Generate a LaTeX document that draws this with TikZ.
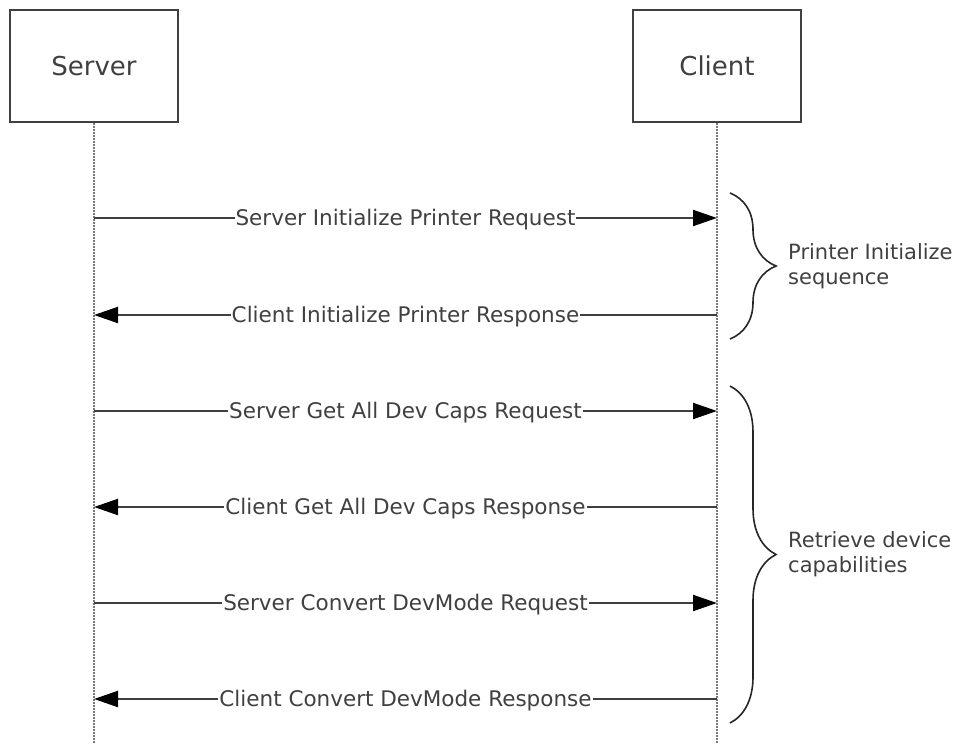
\documentclass[tikz,border=0pt]{standalone}
\usepackage{fontspec}
\setmainfont{DejaVu Sans}
\usetikzlibrary{arrows.meta,decorations.pathreplacing}
\definecolor{ink}{HTML}{404040}
\definecolor{life}{HTML}{7A7A7A}

\begin{document}
\begin{tikzpicture}[x=1pt,y=-1pt,
    actor/.style={draw=ink,line width=1.8pt,minimum width=168pt,minimum height=112pt,
      text=ink,font=\fontsize{26}{30}\selectfont},
    msg/.style={draw=ink,line width=2pt,-{Triangle[length=24pt,width=16pt,color=black]}},
    lbl/.style={fill=white,inner xsep=1pt,inner ysep=2pt,text height=15.5pt,text depth=0pt,
      text=ink,font=\fontsize{21.5}{26}\selectfont},
    grp/.style={draw=black!85,line width=1.6pt,decorate,decoration={brace,amplitude=46pt}},
    note/.style={anchor=west,align=left,inner sep=0pt,text=ink,font=\fontsize{21}{25}\selectfont}]
      \useasboundingbox(0,0)rectangle(962,744);
      \node[actor](server)at(94,66){Server};
      \node[actor](client)at(717,66){Client};
      \coordinate(server end)at(94,744);\coordinate(client end)at(717,744);
      \draw[life,line width=2pt,dash pattern=on 2pt off 1pt](server.south)--(server end)
           (client.south)--(client end);
      % messages
      \foreach \i/\y/\from/\to/\txt in{1/218/s/c/Server Initialize Printer Request,
                                        2/315/c/s/Client Initialize Printer Response,
                                        3/411/s/c/Server Get All Dev Caps Request,
                                        4/507/c/s/Client Get All Dev Caps Response,
                                        5/603/s/c/Server Convert DevMode Request,
                                        6/699/c/s/Client Convert DevMode Response}{
        \coordinate(s\i)at(94,\y);\coordinate(c\i)at(717,\y);
        \draw[msg](\from\i)--(\to\i) node[midway,lbl](m\i){\txt};
      }
      % groups
      \coordinate(g1a)at(730,193);\coordinate(g1b)at(730,339);
      \coordinate(g2a)at(730,386);\coordinate(g2b)at(730,723);
      \draw[grp](g1a)--(g1b);
      \draw[grp](g2a)--(g2b);
      \node[note](init)at(788,266){Printer Initialize\\sequence};
      \node[note](caps)at(788,554){Retrieve device\\capabilities};
    \end{tikzpicture}
\end{document}
